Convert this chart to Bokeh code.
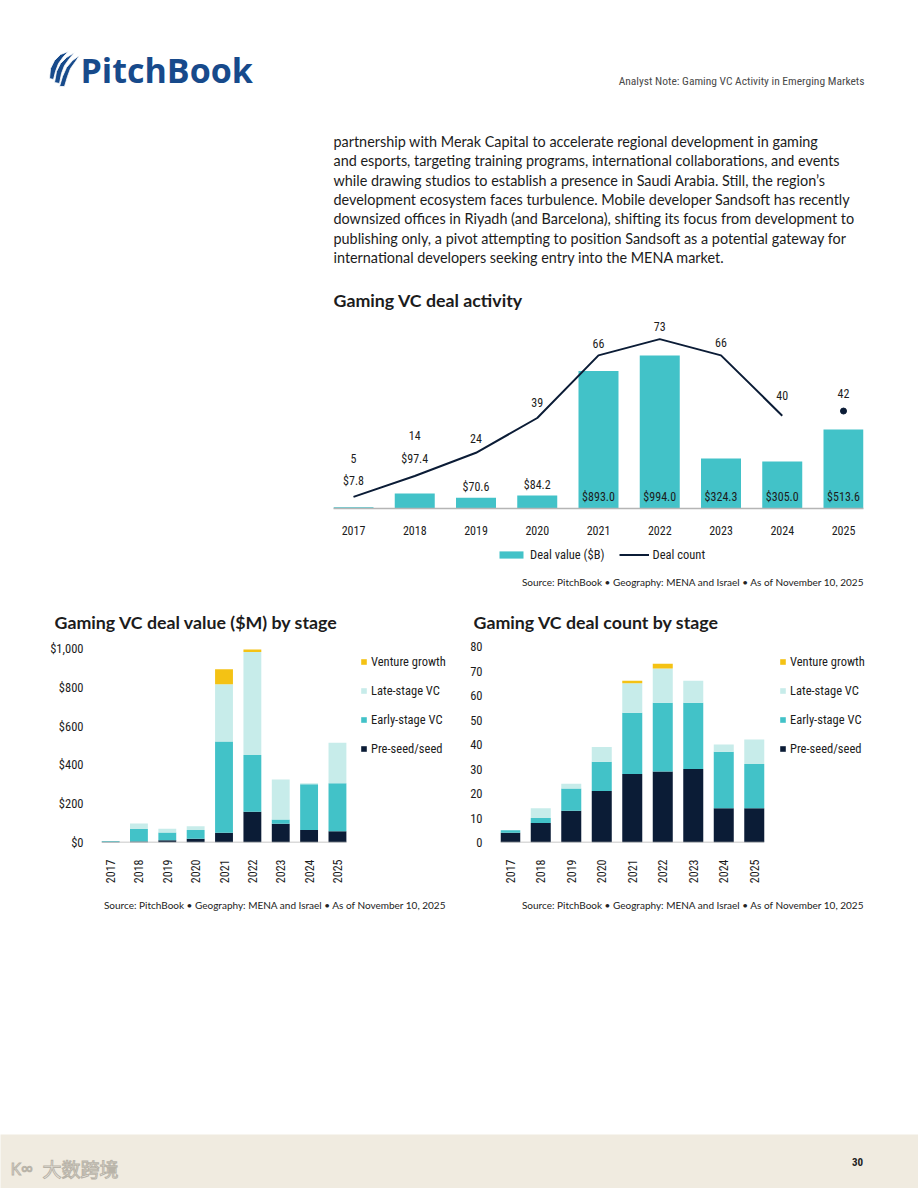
import math
from bokeh.plotting import figure
from bokeh.layouts import row
from bokeh.models import (Range1d, ColumnDataSource, Legend, LegendItem, FixedTicker,
                          NumeralTickFormatter)
from bokeh.core.properties import value
from bokeh.embed import file_html
from bokeh.resources import INLINE

# ---------------- data ----------------
years = ["2017", "2018", "2019", "2020", "2021", "2022", "2023", "2024", "2025"]
deal_value = [7.8, 97.4, 70.6, 84.2, 893.0, 994.0, 324.3, 305.0, 513.6]
deal_count = [5, 14, 24, 39, 66, 73, 66, 40, 42]

stage_names = ["Pre-seed/seed", "Early-stage VC", "Late-stage VC", "Venture growth"]
value_preseed = [4.0, 5.0, 12.0, 19.0, 50.0, 158.0, 96.0, 64.0, 58.0]
value_early = [3.8, 64.0, 39.0, 46.0, 470.0, 293.0, 22.0, 236.0, 247.0]
value_late = [0.0, 28.4, 19.6, 19.2, 295.0, 531.0, 206.3, 5.0, 208.6]
value_growth = [0.0, 0.0, 0.0, 0.0, 78.0, 12.0, 0.0, 0.0, 0.0]

count_preseed = [4, 8, 13, 21, 28, 29, 30, 14, 14]
count_early = [1, 2, 9, 12, 25, 28, 27, 23, 18]
count_late = [0, 4, 2, 6, 12, 14, 9, 3, 10]
count_growth = [0, 0, 0, 0, 1, 2, 0, 0, 0]

value_ticks = [0, 200, 400, 600, 800, 1000]
count_ticks = [0, 10, 20, 30, 40, 50, 60, 70, 80]

# ---------------- styles ----------------
NAVY = "#0b1c36"
TEAL = "#42c2c8"
LIGHT = "#c7ecea"
YELLOW = "#f4c214"
BLUE_LOGO = "#174a8b"
TXT = "#1c1c1c"
AXIS_GRAY = "#b5b5b5"
FONT_C = "Roboto Condensed"
FONT_B = "Lato"
SOURCE = "Source: PitchBook \u2022 Geography: MENA and Israel \u2022 As of November 10, 2025"
PAGE_W = 918

xs = list(range(len(years)))
tick_overrides = {i: y for i, y in enumerate(years)}

# label offsets (screen px) for the top chart
count_label_dy = [-38, -41, -14, -15, -12, -13, -13, -20, -18]
value_label_dy_above = [-26, -35, -11, -11]


def strip(y0, y1, bg="white"):
    p = figure(width=PAGE_W, height=y1 - y0, x_range=Range1d(0, PAGE_W), y_range=Range1d(y1, y0),
               output_backend="svg", toolbar_location=None, min_border=0,
               x_axis_location=None, y_axis_location=None,
               background_fill_color=bg, border_fill_color=bg)
    p.outline_line_color = None
    p.grid.visible = False
    return p


def txt(p, x, y, s, size, font=FONT_B, color=TXT, align="left", style="normal", **kw):
    p.text(x=[x], y=[y], text=[s], text_font=value(font), text_font_size=size,
           text_color=color, text_align=align, text_baseline="middle",
           text_font_style=style, **kw)


def style_xaxis(a, standoff, orient=None):
    a.ticker = FixedTicker(ticks=xs)
    a.major_label_overrides = tick_overrides
    if orient is not None:
        a.major_label_orientation = orient
    a.major_tick_line_color = None
    a.minor_tick_line_color = None
    a.major_label_standoff = standoff
    a.major_label_text_font = FONT_C
    a.major_label_text_font_size = "12px"
    a.major_label_text_color = TXT


# ---------------- header strip ----------------
pA = strip(0, 314)
pA.patches(xs=[[49, 50, 54, 60, 68, 63, 58, 55, 53],
               [54, 56, 60, 66, 74, 69, 64, 61, 59],
               [59, 62, 66, 72, 79, 75, 70, 67, 64]],
           ys=[[78, 68, 60, 54, 51, 56, 63, 71, 79],
               [82, 71, 63, 57, 52, 58, 65, 73, 83],
               [86, 76, 67, 60, 55, 61, 68, 76, 86]],
           fill_color=BLUE_LOGO, line_color="white", line_width=0.8)
txt(pA, 80, 69, "PitchBook", "34px", font="Open Sans", color=BLUE_LOGO, style="bold")
txt(pA, 864, 80, "Analyst Note: Gaming VC Activity in Emerging Markets", "11.5px",
    font=FONT_C, color="#4a4a4a", align="right")

body = [
    "partnership with Merak Capital to accelerate regional development in gaming",
    "and esports, targeting training programs, international collaborations, and events",
    "while drawing studios to establish a presence in Saudi Arabia. Still, the region\u2019s",
    "development ecosystem faces turbulence. Mobile developer Sandsoft has recently",
    "downsized offices in Riyadh (and Barcelona), shifting its focus from development to",
    "publishing only, a pivot attempting to position Sandsoft as a potential gateway for",
    "international developers seeking entry into the MENA market.",
]
for i, line in enumerate(body):
    txt(pA, 333, 141 + 19.35 * i, line, "14.4px")
txt(pA, 333, 299, "Gaming VC deal activity", "17.8px", style="bold")

# ---------------- top chart ----------------
pB = figure(width=PAGE_W, height=226, x_range=Range1d(-0.3265, 8.3265), y_range=Range1d(0, 1260),
            output_backend="svg", toolbar_location=None, min_border_left=333,
            min_border_right=55, min_border_top=0, min_border_bottom=32,
            y_axis_location=None)
pB.extra_y_ranges = {"cnt": Range1d(0, 83.6)}
pB.outline_line_color = None
pB.grid.visible = False

big = [v > 200 for v in deal_value]
srcB = ColumnDataSource(dict(
    x=xs, v=deal_value, c=deal_count,
    vlab=["$%.1f" % v for v in deal_value],
    vy=[0 if b else v for v, b in zip(deal_value, big)],
    vdy=[-12 if b else value_label_dy_above[i] for i, b in enumerate(big)],
    clab=[str(c) for c in deal_count],
    cdy=count_label_dy,
))
pB.vbar(x="x", top="v", width=0.653, fill_color=TEAL, line_color=None, source=srcB)
pB.line(x=xs[:-1], y=deal_count[:-1], y_range_name="cnt", line_color=NAVY, line_width=2)
pB.scatter(x=xs[-1:], y=deal_count[-1:], y_range_name="cnt", size=6, color=NAVY)
pB.text(x="x", y="vy", text="vlab", y_offset="vdy", source=srcB, text_font=value(FONT_C),
        text_font_size="12px", text_color=TXT, text_align="center", text_baseline="middle")
pB.text(x="x", y="c", text="clab", y_offset="cdy", source=srcB, y_range_name="cnt",
        text_font=value(FONT_C), text_font_size="12px", text_color=TXT,
        text_align="center", text_baseline="middle")
style_xaxis(pB.xaxis[0], 11)
pB.xaxis[0].axis_line_color = AXIS_GRAY
pB.xaxis[0].axis_line_width = 1.5

# ---------------- legend + title strip ----------------
pS1 = strip(540, 640)
# hidden proxies of the two series, used only for the legend swatches
leg_bar = pS1.vbar(x=xs, top=deal_value, width=0.65, fill_color=TEAL, line_color=None,
                   visible=False)
leg_line = pS1.line(x=xs, y=deal_count, line_color=NAVY, line_width=2, visible=False)
legB = Legend(items=[LegendItem(label="Deal value ($B)", renderers=[leg_bar]),
                     LegendItem(label="Deal count", renderers=[leg_line])],
              orientation="horizontal", location=(496, 78), glyph_width=30, glyph_height=9,
              label_standoff=4, spacing=14, padding=0, margin=0, label_height=14,
              border_line_color=None, background_fill_alpha=0, inactive_fill_alpha=0,
              label_text_font=FONT_C, label_text_font_size="12.5px", label_text_color=TXT)
pS1.add_layout(legB)
txt(pS1, 864, 581, SOURCE, "10px", align="right", color="#222222")
txt(pS1, 54, 621, "Gaming VC deal value ($M) by stage", "17.8px", style="bold")
txt(pS1, 473, 621, "Gaming VC deal count by stage", "17.8px", style="bold")


# ---------------- stacked charts ----------------
def stacked(width, left, step, yend, ticks, data, fmt, bw, leg_x):
    frame_w = width - left
    xend = -0.32 + frame_w / step
    p = figure(width=width, height=255, x_range=Range1d(-0.32, xend), y_range=Range1d(0, yend),
               output_backend="svg", toolbar_location=None, min_border_left=left,
               min_border_right=0, min_border_top=0, min_border_bottom=53)
    p.outline_line_color = None
    p.grid.visible = False
    keys = ["pre", "early", "late", "growth"]
    src = ColumnDataSource(dict(x=xs, **dict(zip(keys, data))))
    rs = p.vbar_stack(keys, x="x", width=bw, fill_color=[NAVY, TEAL, LIGHT, YELLOW],
                      line_color=None, source=src)
    # baseline under the bars only
    p.line(x=[xs[0] - 0.32, xs[-1] + 0.32], y=[0, 0], line_color=AXIS_GRAY, line_width=1.5)
    xa = p.xaxis[0]
    style_xaxis(xa, 11, math.pi / 2)
    xa.axis_line_color = None
    ya = p.yaxis[0]
    ya.ticker = FixedTicker(ticks=ticks)
    if fmt:
        ya.formatter = NumeralTickFormatter(format=fmt)
    ya.axis_line_color = None
    ya.major_tick_line_color = None
    ya.minor_tick_line_color = None
    ya.major_label_standoff = 12
    ya.major_label_text_font = FONT_C
    ya.major_label_text_font_size = "12.5px"
    ya.major_label_text_color = TXT
    leg = Legend(items=[LegendItem(label=stage_names[i], renderers=[rs[i]]) for i in (3, 2, 1, 0)],
                 location=(leg_x, 86), glyph_width=7, glyph_height=7, label_standoff=4,
                 spacing=14, padding=0, margin=0, label_height=14,
                 border_line_color=None, background_fill_alpha=0,
                 label_text_font=FONT_C, label_text_font_size="12.5px", label_text_color=TXT)
    p.add_layout(leg)
    return p


pL = stacked(459, 101, 28.36, 1041, value_ticks,
             [value_preseed, value_early, value_late, value_growth], "$0,0", 0.63, 259)
pR = stacked(459, 41, 30.5, 82.45, count_ticks,
             [count_preseed, count_early, count_late, count_growth], None, 0.656, 279)

# ---------------- sources strip ----------------
pS2 = strip(895, 1134)
txt(pS2, 446, 904, SOURCE, "10px", align="right", color="#222222")
txt(pS2, 864, 904, SOURCE, "10px", align="right", color="#222222")

# ---------------- footer ----------------
pF = strip(1134, 1188, bg="#f0ebe0")
txt(pF, 857, 1161, "30", "11px", font=FONT_C, align="center", style="bold", color="#222222")
txt(pF, 42, 1168, "\u5927\u6570\u8de8\u5883", "19px", font="Noto Sans CJK SC",
    color="#f7f4ee", text_outline_color="#b8b3a8")
txt(pF, 10, 1168, "K\u221e", "17px", font="Open Sans", color="#f7f4ee",
    text_outline_color="#b8b3a8")

roots = [pA, pB, pS1, row(pL, pR), pS2, pF]
open("out.html", "w").write(file_html(roots, INLINE))
